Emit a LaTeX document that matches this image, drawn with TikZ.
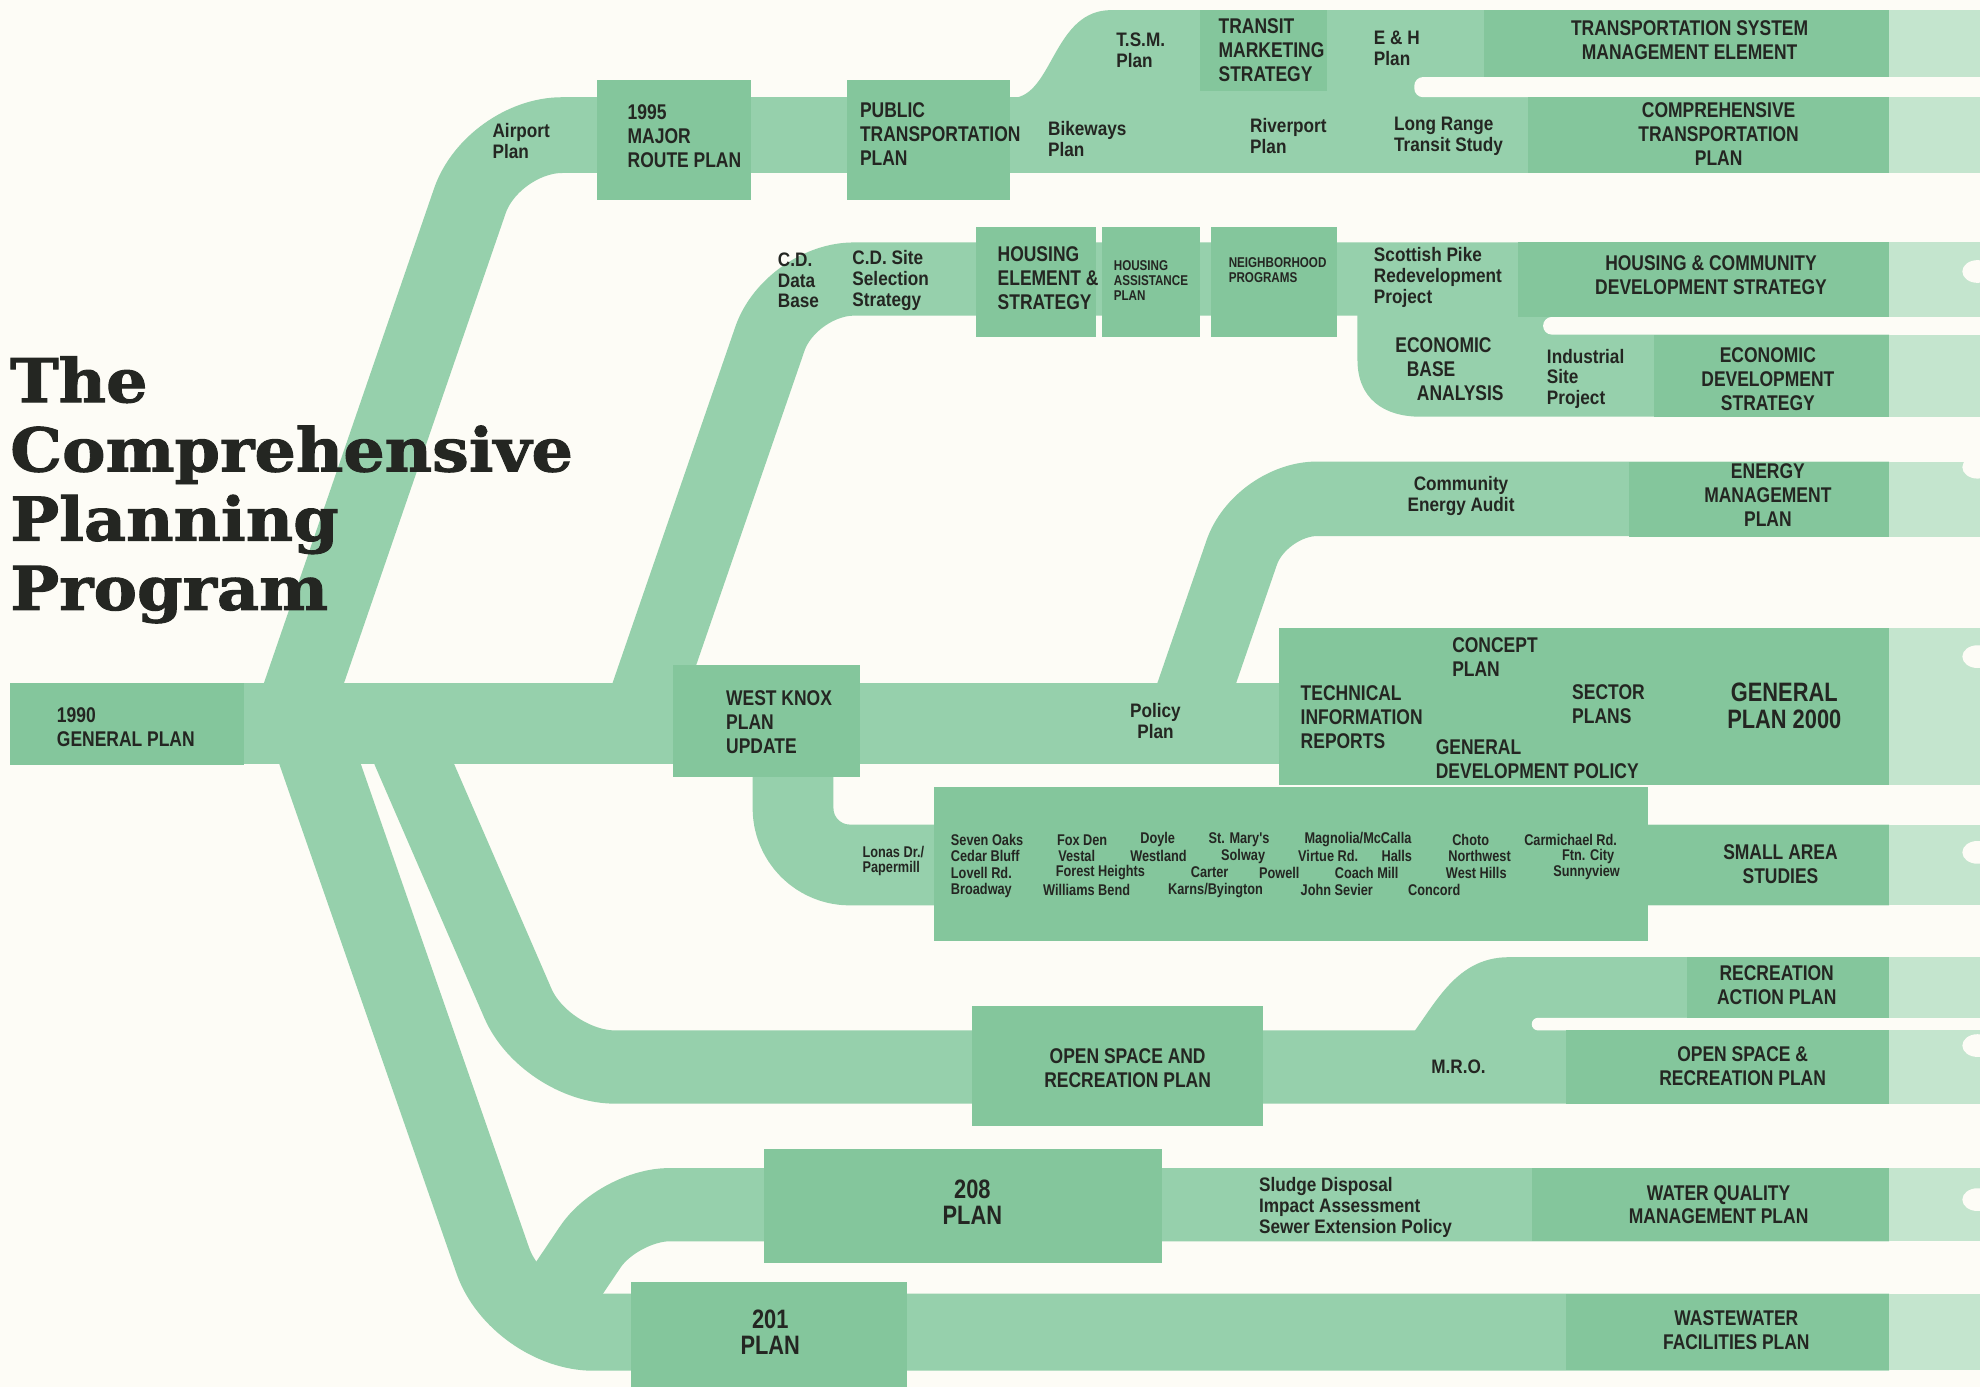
\documentclass[tikz,border=0pt]{standalone}
\usepackage{fontspec}
\usepackage{tikz}
\newfontfamily\labfont[FakeStretch=0.82]{Liberation Sans}
\newfontfamily\smlfont[FakeStretch=0.88]{Liberation Sans}
\newfontfamily\titlefont[FakeStretch=1.08, BoldFeatures={FakeBold=1.6}]{DejaVu Serif}
\definecolor{paper}{RGB}{253,252,246}
\definecolor{bandgreen}{RGB}{150,208,172}
\definecolor{boxgreen}{RGB}{132,198,156}
\definecolor{tailgreen}{RGB}{196,229,206}
\definecolor{ink}{RGB}{36,38,34}
\tikzstyle{band}=[draw=bandgreen, line cap=butt, line join=round]
\tikzstyle{boxg}=[fill=boxgreen]
\tikzstyle{tailg}=[fill=tailgreen]
\tikzstyle{lab}=[inner sep=0pt, text=ink, font={\labfont\bfseries\fontsize{48}{54}\selectfont}]
\tikzstyle{sml}=[inner sep=0pt, text=ink, font={\smlfont\bfseries\fontsize{44}{47}\selectfont}]
\tikzstyle{tny}=[inner sep=0pt, text=ink, font={\labfont\bfseries\fontsize{32}{34}\selectfont}]
\tikzstyle{grd}=[inner sep=0pt, text=ink, anchor=west, font={\labfont\bfseries\fontsize{35}{34}\selectfont}]
\tikzstyle{big}=[inner sep=0pt, text=ink, font={\labfont\bfseries\fontsize{60}{60}\selectfont}]
\tikzstyle{ttl}=[inner sep=0pt, text=ink, font={\titlefont\bfseries\fontsize{136}{156}\selectfont}]

\begin{document}
\begin{tikzpicture}[x=1mm, y=-1mm]
% the page
\fill[paper] (0,0) rectangle (1568,1098);
\useasboundingbox (0,0) rectangle (1568,1098);
% the bands
\draw[band, line width=64mm] (100,573) -- (1100,573);
\draw[band, line width=60mm, rounded corners=55mm] (229,575) -- (390,107) -- (1496,107);
\fill[bandgreen] (790,107) -- (790,77) -- (806,77) .. controls (834,70) and (836,8) .. (880,8) -- (1496,8) -- (1496,107) -- cycle;
\draw[band, line width=58mm, rounded corners=50mm] (504,575) -- (626,221) -- (1496,221);
\fill[bandgreen] (1075,221) -- (1075,285) .. controls (1075,315) and (1095,330) .. (1125,330) -- (1496,330) -- (1496,221) -- cycle;
\draw[band, line width=59mm, rounded corners=45mm] (936,575) -- (998,395) -- (1496,395);
\draw[band, line width=64mm, rounded corners=45mm] (628,600) -- (628,685) -- (1496,685);
\draw[band, line width=58mm, rounded corners=55mm] (315,575) -- (432,845) -- (1496,845);
\fill[bandgreen] (1110,845) -- (1110,830) .. controls (1135,800) and (1150,758) .. (1195,758) -- (1496,758) -- (1496,845) -- cycle;
\draw[band, line width=61mm, rounded corners=60mm] (243,575) -- (410,1055) -- (1496,1055);
\draw[band, line width=58mm, rounded corners=40mm] (1496,954) -- (490,954) -- (422,1055);
% the slots
\fill[paper, rounded corners=7mm] (1120,61) rectangle (1568,77);
\fill[paper, rounded corners=7mm] (1222,251) rectangle (1568,265);
\fill[paper, rounded corners=5mm] (1213,806) rectangle (1568,816);
% the boxes
\fill[boxg] (8,541) rectangle (193,606);
\fill[boxg] (473,63) rectangle (595,158);
\fill[boxg] (671,63) rectangle (800,158);
\fill[boxg] (950,8) rectangle (1051,72);
\fill[boxg] (1175,8) rectangle (1496,61);
\fill[boxg] (1210,77) rectangle (1496,137);
\fill[boxg] (773,180) rectangle (868,267);
\fill[boxg] (873,180) rectangle (950,267);
\fill[boxg] (959,180) rectangle (1059,267);
\fill[boxg] (1202,192) rectangle (1496,251);
\fill[boxg] (1310,265) rectangle (1496,330);
\fill[boxg] (1290,366) rectangle (1496,425);
\fill[boxg] (533,527) rectangle (681,615);
\fill[boxg] (1013,497) rectangle (1313,622);
\fill[boxg] (1313,497) rectangle (1496,622);
\fill[boxg] (740,623) rectangle (1305,745);
\fill[boxg] (1305,653) rectangle (1496,717);
\fill[boxg] (1336,758) rectangle (1496,806);
\fill[boxg] (770,797) rectangle (1000,892);
\fill[boxg] (1240,816) rectangle (1496,874);
\fill[boxg] (605,910) rectangle (920,1000);
\fill[boxg] (1213,925) rectangle (1496,983);
\fill[boxg] (500,1015) rectangle (718,1098);
\fill[boxg] (1240,1025) rectangle (1496,1085);
% the tails
\fill[tailg] (1496,8) rectangle (1568,61);
\fill[tailg] (1496,77) rectangle (1568,137);
\fill[tailg] (1496,192) rectangle (1568,251);
\fill[tailg] (1496,265) rectangle (1568,330);
\fill[tailg] (1496,366) rectangle (1568,425);
\fill[tailg] (1496,497) rectangle (1568,622);
\fill[tailg] (1496,653) rectangle (1568,717);
\fill[tailg] (1496,758) rectangle (1568,806);
\fill[tailg] (1496,816) rectangle (1568,874);
\fill[tailg] (1496,925) rectangle (1568,983);
\fill[tailg] (1496,1025) rectangle (1568,1085);
% the holes
\fill[paper] (1566,215) ellipse [x radius=12mm, y radius=9mm];
\fill[paper] (1566,370) ellipse [x radius=12mm, y radius=9mm];
\fill[paper] (1566,520) ellipse [x radius=12mm, y radius=9mm];
\fill[paper] (1566,675) ellipse [x radius=12mm, y radius=9mm];
\fill[paper] (1566,828) ellipse [x radius=12mm, y radius=9mm];
\fill[paper] (1566,950) ellipse [x radius=12mm, y radius=9mm];
% the title
\node[ttl, anchor=base west, align=left] (title) at (8,483) {The\\Comprehensive\\Planning\\Program};
% the plans
\node[lab, anchor=west, align=left] (gp1990) at (45,576) {1990\\GENERAL PLAN};
\node[lab, anchor=west, align=left] (mrp1995) at (497,108) {1995\\MAJOR\\ROUTE PLAN};
\node[lab, anchor=west, align=left] (ptp) at (681,106) {PUBLIC\\TRANSPORTATION\\PLAN};
\node[lab, anchor=west, align=left] (tms) at (965,40) {TRANSIT\\MARKETING\\STRATEGY};
\node[lab, align=center] (tsme) at (1338,32) {TRANSPORTATION SYSTEM\\MANAGEMENT ELEMENT};
\node[lab, align=center] (ctp) at (1361,106) {COMPREHENSIVE\\TRANSPORTATION\\PLAN};
\node[lab, anchor=west, align=left] (hes) at (790,220) {HOUSING\\ELEMENT \&\\STRATEGY};
\node[tny, anchor=west, align=left] (hap) at (882,222) {HOUSING\\ASSISTANCE\\PLAN};
\node[tny, anchor=west, align=left] (np) at (973,214) {NEIGHBORHOOD\\PROGRAMS};
\node[lab, align=center] (hcds) at (1355,218) {HOUSING \& COMMUNITY\\DEVELOPMENT STRATEGY};
\node[lab, anchor=west, align=left] (eba) at (1105,292) {ECONOMIC\\\hspace*{9mm}BASE\\\hspace*{17mm}ANALYSIS};
\node[lab, align=center] (eds) at (1400,300) {ECONOMIC\\DEVELOPMENT\\STRATEGY};
\node[lab, align=center] (emp) at (1400,392) {ENERGY\\MANAGEMENT\\PLAN};
\node[lab, anchor=west, align=left] (wkp) at (575,572) {WEST KNOX\\PLAN\\UPDATE};
\node[lab, anchor=west, align=left] (tir) at (1030,568) {TECHNICAL\\INFORMATION\\REPORTS};
\node[lab, anchor=west, align=left] (cp) at (1150,520) {CONCEPT\\PLAN};
\node[lab, anchor=west, align=left] (sp) at (1245,558) {SECTOR\\PLANS};
\node[lab, anchor=west, align=left] (gdp) at (1137,601) {GENERAL\\DEVELOPMENT POLICY};
\node[big, align=center] (gp2000) at (1413,559) {GENERAL\\PLAN 2000};
\node[lab, align=center] (sas) at (1410,684) {SMALL AREA\\STUDIES};
\node[lab, align=center] (rap) at (1407,780) {RECREATION\\ACTION PLAN};
\node[lab, align=center] (osrp) at (893,846) {OPEN SPACE AND\\RECREATION PLAN};
\node[lab, align=center] (osr) at (1380,844) {OPEN SPACE \&\\RECREATION PLAN};
\node[big, align=center] (p208) at (770,952) {208\\PLAN};
\node[lab, align=center] (wqmp) at (1361,954) {WATER QUALITY\\MANAGEMENT PLAN};
\node[big, align=center] (p201) at (610,1055) {201\\PLAN};
\node[lab, align=center] (wfp) at (1375,1053) {WASTEWATER\\FACILITIES PLAN};
% the steps on the way
\node[sml, anchor=west, align=left] (airport) at (390,112) {Airport\\Plan};
\node[sml, anchor=west, align=left] (bikeways) at (830,110) {Bikeways\\Plan};
\node[sml, anchor=west, align=left] (tsm) at (884,40) {T.S.M.\\Plan};
\node[sml, anchor=west, align=left] (eh) at (1088,38) {E \& H\\Plan};
\node[sml, anchor=west, align=left] (riverport) at (990,108) {Riverport\\Plan};
\node[sml, anchor=west, align=left] (lrts) at (1104,108) {Long Range\\Transit Study};
\node[sml, anchor=west, align=left] (cddb) at (616,222) {C.D.\\Data\\Base};
\node[sml, anchor=west, align=left] (cdss) at (675,222) {C.D. Site\\Selection\\Strategy};
\node[sml, anchor=west, align=left] (spr) at (1088,220) {Scottish Pike\\Redevelopment\\Project};
\node[sml, anchor=west, align=left] (isp) at (1225,300) {Industrial\\Site\\Project};
\node[sml, align=center] (cea) at (1157,393) {Community\\Energy Audit};
\node[sml, align=center] (policy) at (915,571) {Policy\\Plan};
\node[sml, align=center] (mro) at (1155,845) {M.R.O.};
\node[sml, anchor=west, align=left] (sludge) at (997,956) {Sludge Disposal\\Impact Assessment\\Sewer Extension Policy};
% the small areas
\node[grd, align=left] (lonas) at (683,682) {Lonas Dr./\\Papermill};
\node[grd] (sa1) at (753,665) {Seven Oaks};
\node[grd] (sa2) at (837,665) {Fox Den};
\node[grd] (sa3) at (903,665) {Doyle};
\node[grd] (sa4) at (957,665) {St. Mary's};
\node[grd] (sa5) at (1033,665) {Magnolia/McCalla};
\node[grd] (sa6) at (1150,665) {Choto};
\node[grd] (sa7) at (1207,665) {Carmichael Rd.};
\node[grd] (sa8) at (753,678) {Cedar Bluff};
\node[grd] (sa9) at (838,678) {Vestal};
\node[grd] (sa10) at (895,678) {Westland};
\node[grd] (sa11) at (967,678) {Solway};
\node[grd] (sa12) at (1028,678) {Virtue Rd.};
\node[grd] (sa13) at (1094,678) {Halls};
\node[grd] (sa14) at (1147,678) {Northwest};
\node[grd] (sa15) at (1237,678) {Ftn. City};
\node[grd] (sa16) at (753,691) {Lovell Rd.};
\node[grd] (sa17) at (836,691) {Forest Heights};
\node[grd] (sa18) at (943,691) {Carter};
\node[grd] (sa19) at (997,691) {Powell};
\node[grd] (sa20) at (1057,691) {Coach Mill};
\node[grd] (sa21) at (1145,691) {West Hills};
\node[grd] (sa22) at (1230,691) {Sunnyview};
\node[grd] (sa23) at (753,705) {Broadway};
\node[grd] (sa24) at (826,705) {Williams Bend};
\node[grd] (sa25) at (925,705) {Karns/Byington};
\node[grd] (sa26) at (1030,705) {John Sevier};
\node[grd] (sa27) at (1115,705) {Concord};
\end{tikzpicture}
\end{document}
